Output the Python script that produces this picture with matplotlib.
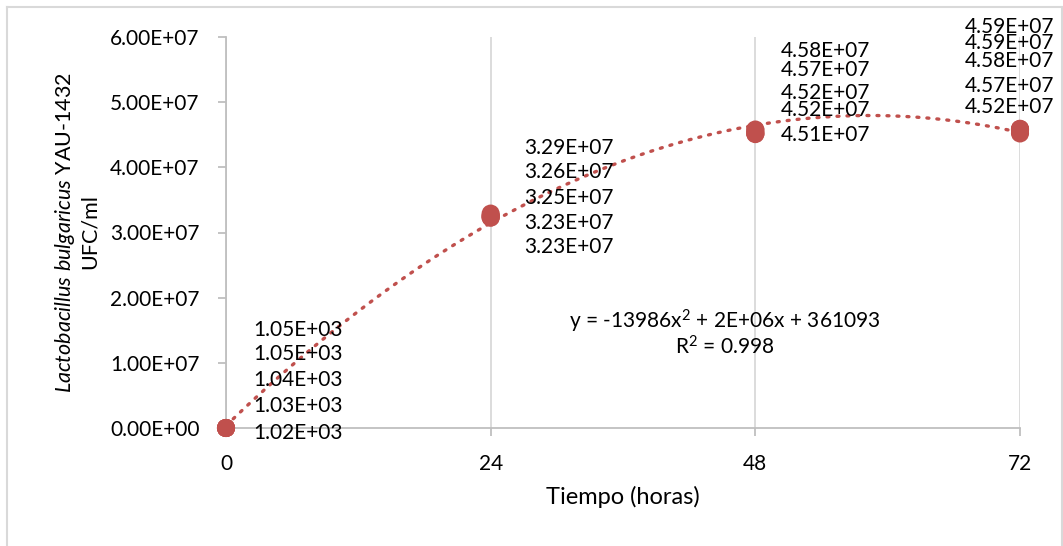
import numpy as np
import matplotlib
matplotlib.use("Agg")
import matplotlib.pyplot as plt
from matplotlib.lines import Line2D

plt.rcParams["font.family"] = ["Lato", "DejaVu Sans"]
plt.rcParams["mathtext.fontset"] = "custom"
plt.rcParams["mathtext.rm"] = "Lato"
plt.rcParams["mathtext.it"] = "Lato:italic"

# data: UFC/ml per sampling time (5 replicates each)
tiempo = [0, 24, 48, 72]
ufc_0 = [1.05e3, 1.05e3, 1.04e3, 1.03e3, 1.02e3]
ufc_24 = [3.29e7, 3.26e7, 3.25e7, 3.23e7, 3.23e7]
ufc_48 = [4.58e7, 4.57e7, 4.52e7, 4.52e7, 4.51e7]
ufc_72 = [4.59e7, 4.59e7, 4.58e7, 4.57e7, 4.52e7]
grupos = [ufc_0, ufc_24, ufc_48, ufc_72]

ecuacion = "y = -13986x$^{2}$ + 2E+06x + 361093"
r2_txt = "R$^{2}$ = 0.998"

# label offsets in pixels (dx, alignment, list of dy) for each group
offsets = [
    (27, "left", [98, 74, 48, 22, -5]),
    (33, "left", [66, 44, 18, -5, -29]),
    (25, "left", [79, 60, 40, 23, -1]),
    (34, "right", [102, 86, 69, 44, 26]),
]

red = "#C0504D"
fs = 15
W, H = 1063, 546
fig = plt.figure(figsize=(W / 100, H / 100), dpi=100)
ax = fig.add_axes([226 / W, 1 - 428 / H, (1020 - 226) / W, (428 - 37) / H])

xs = np.repeat(tiempo, 5)
ys = np.concatenate(grupos)

# polynomial trendline
coef = np.polyfit(xs, ys, 2)
xx = np.linspace(0, 72, 300)
ax.plot(xx, np.polyval(coef, xx), color=red, lw=2.4, ls=(0, (0.6, 2.4)),
        dash_capstyle="round", zorder=3)

ax.scatter(xs, ys, s=170, color=red, zorder=4, edgecolors="none", clip_on=False)

for t, vals, (dx, ha, dys) in zip(tiempo, grupos, offsets):
    for v, dy in zip(vals, dys):
        ax.annotate(f"{v:.2E}", xy=(t, v), xytext=(dx, dy), textcoords="offset pixels",
                    ha=ha, va="center", fontsize=fs, zorder=5, annotation_clip=False)

ax.set_xlim(0, 72)
ax.set_ylim(0, 6e7)
ax.set_xticks(tiempo)
ax.set_yticks(np.arange(0, 6.01e7, 1e7))
ax.set_yticklabels([f"{v:.2E}" for v in np.arange(0, 6.01e7, 1e7)])
ax.grid(axis="x", color="#d9d9d9", lw=1.3)
ax.set_axisbelow(True)
for s in ["top", "right"]:
    ax.spines[s].set_visible(False)
for s in ["left", "bottom"]:
    ax.spines[s].set_color("#bfbfbf")
    ax.spines[s].set_linewidth(1.3)
ax.tick_params(axis="both", colors="#bfbfbf", labelcolor="black", labelsize=fs,
               length=6, width=1.3)
ax.tick_params(axis="y", pad=13)
ax.tick_params(axis="x", pad=13)

ax.text(0.628, 0.272, ecuacion, transform=ax.transAxes, ha="center", va="center", fontsize=fs)
ax.text(0.628, 0.208, r2_txt, transform=ax.transAxes, ha="center", va="center", fontsize=fs)

fig.text(623 / W, 1 - 497 / H, "Tiempo (horas)", ha="center", va="center", fontsize=17)
fig.text(65 / W, 1 - 232 / H, r"$Lactobacillus\ bulgaricus$ YAU-1432",
         rotation=90, ha="center", va="center", fontsize=15.5)
fig.text(90 / W, 1 - 232 / H, "UFC/ml", rotation=90, ha="center", va="center", fontsize=15.5)

# chart area border (left, top, right)
bc = "#d9d9d9"
fig.add_artist(Line2D([7 / W, 7 / W], [0, 1 - 7 / H], color=bc, lw=1.5))
fig.add_artist(Line2D([7 / W, 1062 / W], [1 - 7 / H, 1 - 7 / H], color=bc, lw=1.5))
fig.add_artist(Line2D([1061.5 / W, 1061.5 / W], [0, 1 - 7 / H], color=bc, lw=1.5))

fig.savefig("out.png", dpi=100)
